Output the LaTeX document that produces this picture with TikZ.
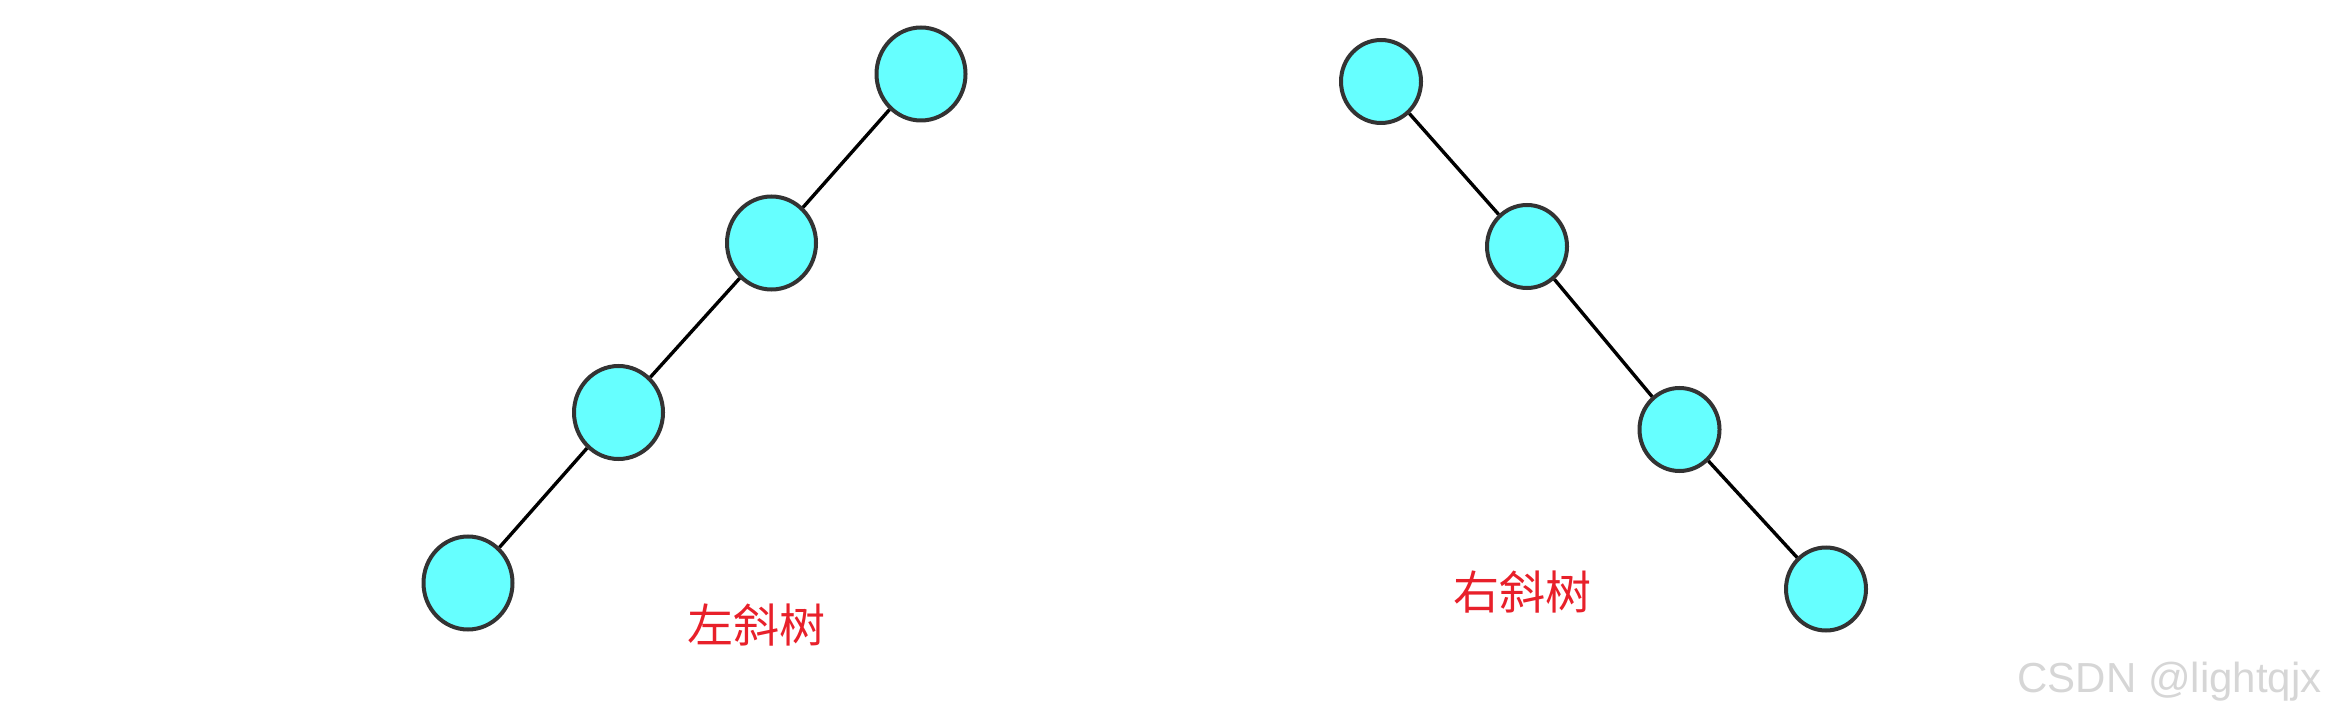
\documentclass[tikz,border=0pt]{standalone}
\usepackage{fontspec}
\setmainfont{Liberation Sans}
\newfontfamily\cjk{Noto Sans CJK SC}
\usetikzlibrary{shapes.geometric}
\definecolor{nodefill}{HTML}{66FFFF}
\definecolor{nodeline}{HTML}{333333}
\definecolor{labelred}{HTML}{E8202A}
\definecolor{wmgray}{HTML}{D6D6D6}
\tikzset{
  bignode/.style={ellipse, draw=nodeline, fill=nodefill, line width=2pt, inner sep=0pt, minimum width=44.5pt, minimum height=46.5pt},
  smallnode/.style={ellipse, draw=nodeline, fill=nodefill, line width=2pt, inner sep=0pt, minimum width=40pt, minimum height=41.5pt},
  edge/.style={line width=1.7pt, black},
  lbl/.style={text=labelred, font=\cjk\fontsize{23pt}{23pt}\selectfont, inner sep=0pt},
  wm/.style={text=wmgray, font=\fontsize{21pt}{21pt}\selectfont, inner sep=0pt}
}
\begin{document}
\begin{tikzpicture}[x=0.5pt, y=-0.5pt]
\useasboundingbox (0,0) rectangle (2327,716);
% left skewed tree
\node[bignode] (l1) at (921,74) {};
\node[bignode] (l2) at (771.5,243) {};
\node[bignode] (l3) at (618.5,412.5) {};
\node[bignode] (l4) at (468,583) {};
% right skewed tree
\node[smallnode] (r1) at (1381,81.5) {};
\node[smallnode] (r2) at (1527,246.5) {};
\node[smallnode] (r3) at (1679.5,429.5) {};
\node[smallnode] (r4) at (1826,589) {};
\draw[edge] (l1) -- (l2);
\draw[edge] (l2) -- (l3);
\draw[edge] (l3) -- (l4);
\draw[edge] (r1) -- (r2);
\draw[edge] (r2) -- (r3);
\draw[edge] (r3) -- (r4);
\node[lbl] (lt) at (756,625) {左斜树};
\node[lbl] (rt) at (1522,592) {右斜树};
\node[wm, anchor=base east] (mark) at (2322,692) {CSDN @lightqjx};
\end{tikzpicture}
\end{document}
